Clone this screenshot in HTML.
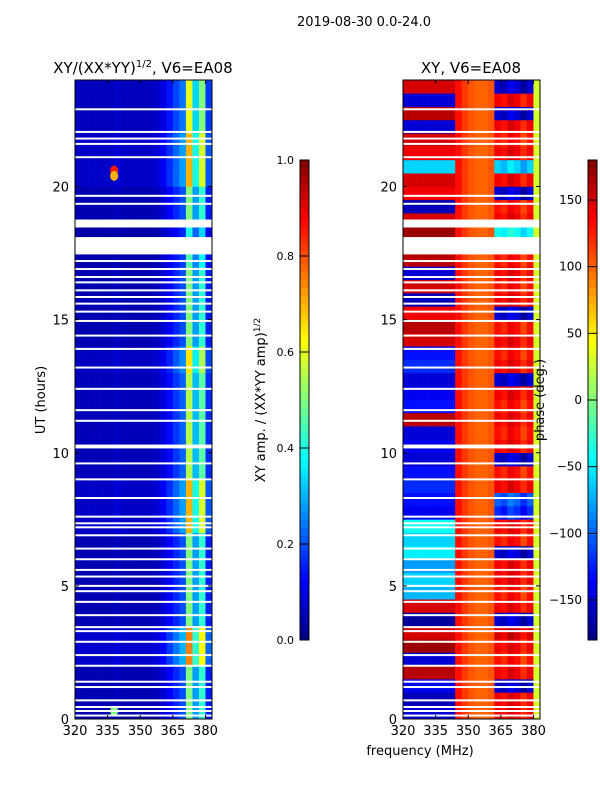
<!DOCTYPE html>
<html><head><meta charset="utf-8">
<style>
body{margin:0;background:#fff;}
svg{display:block;font-family:"DejaVu Sans","Liberation Sans",sans-serif;}
</style></head>
<body>
<svg id="fig" width="600" height="800" viewBox="0 0 600 800">
<rect width="600" height="800" fill="#fff"/>
<text x="364" y="26" font-size="13" text-anchor="middle">2019-08-30 0.0-24.0</text>
<text x="143" y="73" font-size="15" text-anchor="middle">XY/(XX*YY)<tspan font-size="10" dy="-6">1/2</tspan><tspan dy="6">, V6=EA08</tspan></text>
<text x="471" y="73" font-size="15" text-anchor="middle">XY, V6=EA08</text>
<g id="ampCells"></g>
<g id="phaseCells"></g>
<g id="gaps"></g>
<g id="axes"></g>
<g id="cbars"></g>
<text transform="translate(45,400) rotate(-90)" font-size="13" text-anchor="middle">UT (hours)</text>
<text transform="translate(265,400) rotate(-90)" font-size="13" text-anchor="middle">XY amp. / (XX*YY amp)<tspan font-size="9" dy="-5">1/2</tspan></text>
<text transform="translate(544,400) rotate(-90)" font-size="13" text-anchor="middle">phase (deg.)</text>
<text x="420" y="755" font-size="13" text-anchor="middle">frequency (MHz)</text>
</svg>
<script>
// ---- data ----
const channels = [320,323,326,329,332,335,338,341,344,347,350,353,356,359,362,365,368,371,374,377,380];
const ampProfile = [0.05,0.05,0.05,0.05,0.05,0.05,0.06,0.05,0.05,0.05,0.05,0.05,0.06,0.08,0.12,0.16,0.2,0.5,0.28,0.42,0.15];
const ampRowFactor = [1,1,1,1,1.5,1.5,1.5,1,1,1,1,1,1,1,1.4,1.4,1.4,1.4,1.1,1.1,1.1,1.1,1.1,1.1,1.1,1.1,1.3,1.3,1,1,1,1,1,1,0.9,0.9,0.8,1,1,1,1.4,1.4,1.4,1.4,1.2,1.2,1.2,1.2];
const spotsFreq = [338,338,338];
const spotsHour = [20.6,20.4,0.3];
const spotsVal = [0.85,0.7,0.5];
const phaseLow = [-150,-160,-140,160,-150,170,150,-170,150,-70,-60,-80,-50,-60,-40,-140,-130,-120,-130,-150,-140,-150,160,-130,-140,-150,-120,-130,150,160,140,-160,150,-150,160,150,170,150,-160,140,150,-60,140,150,-150,160,-150,150];
const phaseMid = [130,115,105,100,100,105];
const phaseHigh = [140,140,-150,140,130,140,150,-150,140,130,140,140,-150,130,140,-120,-100,140,130,-150,140,130,140,130,140,-150,140,130,140,130,-150,140,130,140,130,-30,-40,140,130,-150,140,-60,140,130,140,-150,140,-150];
const hiOffsets = [0,-10,10,0,-20,0];
const phaseEdge = 30;
const gapHours = [0.13,0.3,0.45,0.7,1.2,1.4,2.0,2.4,2.9,3.3,3.45,3.9,4.4,4.8,5.0,5.35,5.6,6.0,6.4,6.9,7.2,7.35,7.6,8.3,9.0,9.6,10.2,10.27,11.2,11.6,12.4,13.2,13.9,14.4,14.95,15.3,15.6,15.85,16.1,16.4,16.6,16.9,17.2,18.55,18.65,19.35,19.65,21.1,21.6,21.8,22.05,22.9];
const gapBands = [[17.45,18.1],[18.46,18.76]];
const xTicks = [320,335,350,365,380];
const yTicks = [0,5,10,15,20];
const ampTicks = [0.0,0.2,0.4,0.6,0.8,1.0];
const phaseTicks = [-150,-100,-50,0,50,100,150];

// ---- scales ----
const NS='http://www.w3.org/2000/svg';
const panels=[{x0:75,x1:212},{x0:403,x1:540}];
const Y0=719,Y1=80;
function xS(p,f){return panels[p].x0+(f-320)/63*(panels[p].x1-panels[p].x0);}
function yS(h){return Y0-h/24*(Y0-Y1);}
function jet(v){v=Math.max(0,Math.min(1,v));
 const r=Math.max(0,Math.min(1,1.5-Math.abs(4*v-3)));
 const g=Math.max(0,Math.min(1,1.5-Math.abs(4*v-2)));
 const b=Math.max(0,Math.min(1,1.5-Math.abs(4*v-1)));
 return `rgb(${Math.round(r*255)},${Math.round(g*255)},${Math.round(b*255)})`;}
function mk(tag,attrs,parent){const e=document.createElementNS(NS,tag);for(const k in attrs)e.setAttribute(k,attrs[k]);parent.appendChild(e);return e;}
const ampG=document.getElementById('ampCells'),phG=document.getElementById('phaseCells');
const nRows=ampRowFactor.length, rowH=24/nRows;
for(let r=0;r<nRows;r++){
 for(let c=0;c<channels.length;c++){
  const f0=channels[c],f1=f0+3;
  const y=yS((r+1)*rowH),h=yS(r*rowH)-y;
  const a=mk('rect',{x:xS(0,f0),y:y,width:xS(0,f1)-xS(0,f0)+0.3,height:h+0.3,fill:jet(ampProfile[c]*ampRowFactor[r])},ampG);
  
  
  let ph;
  if(c<8) ph=phaseLow[r];
  else if(c<14) ph=phaseMid[c-8];
  else if(c<20) ph=phaseHigh[r]+hiOffsets[c-14];
  else ph=phaseEdge;
  if(ph>180)ph-=360; if(ph<-180)ph+=360;
  const p=mk('rect',{x:xS(1,f0),y:y,width:xS(1,f1)-xS(1,f0)+0.3,height:h+0.3,fill:jet((ph+180)/360)},phG);
  
  
 }
}
for(let i=0;i<spotsFreq.length;i++){
 const s=mk('ellipse',{cx:xS(0,spotsFreq[i]),cy:yS(spotsHour[i]),rx:4,ry:5,fill:jet(spotsVal[i])},ampG);
 
 
}
const gG=document.getElementById('gaps');
for(let p=0;p<2;p++){
 gapHours.forEach(hh=>{const g=mk('rect',{x:panels[p].x0,y:yS(hh)-1,width:panels[p].x1-panels[p].x0,height:2,fill:'#fff'},gG);
  
  });
 gapBands.forEach(b=>{const g=mk('rect',{x:panels[p].x0,y:yS(b[1]),width:panels[p].x1-panels[p].x0,height:yS(b[0])-yS(b[1]),fill:'#fff'},gG);
  
  });
}
const ax=document.getElementById('axes');
for(let p=0;p<2;p++){
 const P=panels[p];
 const fr=mk('rect',{x:P.x0,y:Y1,width:P.x1-P.x0,height:Y0-Y1,fill:'none',stroke:'#000','stroke-width':1},ax);
 
 
 xTicks.forEach(t=>{const x=xS(p,t);
  mk('line',{x1:x,y1:Y0,x2:x,y2:Y0-4,stroke:'#000'},ax);mk('line',{x1:x,y1:Y1,x2:x,y2:Y1+4,stroke:'#000'},ax);
  const tl=mk('text',{x:x,y:Y0+16,'font-size':13,'text-anchor':'middle'},ax);tl.textContent=t;
  
  });
 yTicks.forEach(t=>{const y=yS(t);
  mk('line',{x1:P.x0,y1:y,x2:P.x0+4,y2:y,stroke:'#000'},ax);mk('line',{x1:P.x1,y1:y,x2:P.x1-4,y2:y,stroke:'#000'},ax);
  const tl=mk('text',{x:P.x0-6,y:y+5,'font-size':13,'text-anchor':'end'},ax);tl.textContent=t;
  
  });
}
const cb=document.getElementById('cbars');
function colorbar(x,vmin,vmax,ticks,name){
 const top=160,bot=640,w=9,n=64;
 for(let i=0;i<n;i++){const y=bot-(i+1)*(bot-top)/n;
  mk('rect',{x:x,y:y,width:w,height:(bot-top)/n+0.5,fill:jet((i+0.5)/n)},cb);}
 const f=mk('rect',{x:x,y:top,width:w,height:bot-top,fill:'none',stroke:'#000'},cb);
 
 
 ticks.forEach(t=>{const y=bot-(t-vmin)/(vmax-vmin)*(bot-top);
  mk('line',{x1:x,y1:y,x2:x+w,y2:y,stroke:'#000'},cb);
  const tl=mk('text',{x:x-6,y:y+4,'font-size':vmax>1?12:11,'text-anchor':'end'},cb);tl.textContent=(vmax>1?String(t).replace('-','\u2212'):t.toFixed(1));
  
  });
}
colorbar(300,0,1,ampTicks,'amp-colorbar');
colorbar(588,-180,180,phaseTicks,'phase-colorbar');
</script>
</body></html>
